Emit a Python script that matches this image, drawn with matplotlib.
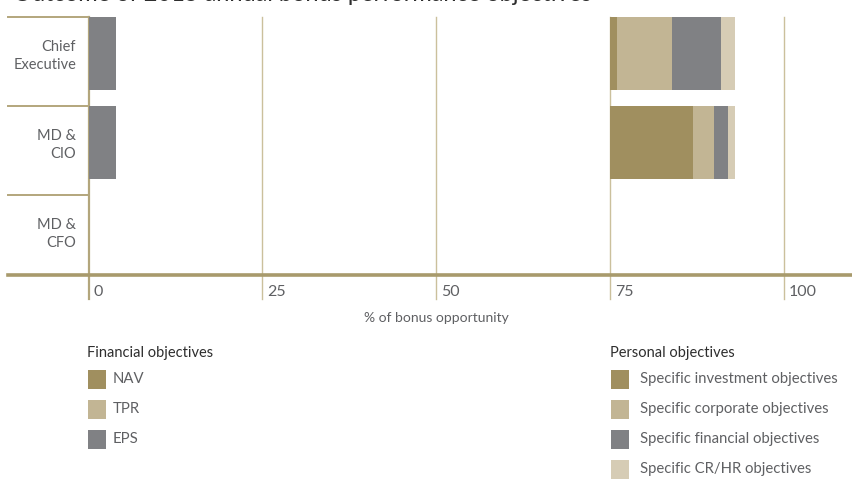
import matplotlib
matplotlib.use("Agg")
import matplotlib.pyplot as plt
from matplotlib.patches import Rectangle

plt.rcParams['font.family'] = ['Lato', 'DejaVu Sans']

# ---------------- data ----------------
title = "Outcome of 2015 annual bonus performance objectives"
executives = ["Chief\nExecutive", "MD &\nCIO", "MD &\nCFO"]
# Financial objectives (% of bonus opportunity)
fin_labels = ["NAV", "TPR", "EPS"]
nav = [0, 0, 0]
tpr = [0, 0, 0]
eps = [4, 4, 0]
# Personal objectives are shown from the 75% mark
personal_start = 75
pers_labels = ["Specific investment objectives", "Specific corporate objectives",
               "Specific financial objectives", "Specific CR/HR objectives"]
invest = [1, 12, 0]
corporate = [8, 3, 0]
financial = [7, 2, 0]
crhr = [2, 1, 0]
xticks = [0, 25, 50, 75, 100]
xlabel = "% of bonus opportunity"

# ---------------- style ----------------
C_DARK = "#a08f5f"
C_MID = "#c2b594"
C_GREY = "#808184"
C_LIGHT = "#d6ccb5"
GOLD = "#b3a67c"
TXT = "#5f6063"

W, H = 853, 479
fig = plt.figure(figsize=(W / 100, H / 100), dpi=100)

def fx(px):
    return px / W

def fy(py):
    return 1 - py / H

# axes: left px 8, right 853, top px 17, bottom px 275
ax = fig.add_axes([fx(8), fy(275), 1 - fx(8), fy(17) - fy(275)])
xmin, xmax = -11.6, 110.0
ymax = (275 - 17) / 89.0
ax.set_xlim(xmin, xmax)
ax.set_ylim(ymax, 0)
ax.axis("off")

bar_h = 0.82
rows = list(range(len(executives)))

# gridlines (extend below axis line)
ybot = (299 - 17) / 89.0
for t in xticks:
    lw = 1.6 if t == 0 else 1.0
    col = GOLD if t == 0 else "#cbc09c"
    ax.plot([t, t], [0, ybot], color=col, lw=lw, clip_on=False, zorder=1)
    ax.text(t + 0.75, (292 - 17) / 89.0, str(t), ha="left", va="center",
            fontsize=11.5, color=TXT, clip_on=False)

# row divider lines in the label column
for r in rows:
    ax.plot([xmin, 0], [r, r], color=GOLD, lw=1.4, zorder=1, clip_on=False)
    ax.text(-1.8, r + 0.44, executives[r], ha="right", va="center",
            fontsize=10.5, color=TXT, linespacing=1.35)

# bottom axis line
ax.plot([xmin, xmax], [ymax, ymax], color="#a89a6c", lw=2.6, clip_on=False, zorder=3)

# financial bars
left = [0] * 3
for vals, col in zip([nav, tpr, eps], [C_DARK, C_MID, C_GREY]):
    ax.barh(rows, vals, left=left, height=bar_h, align="edge", color=col,
            linewidth=0, zorder=2)
    left = [a + b for a, b in zip(left, vals)]

# personal bars
left = [personal_start] * 3
for vals, col in zip([invest, corporate, financial, crhr],
                     [C_DARK, C_MID, C_GREY, C_LIGHT]):
    ax.barh(rows, vals, left=left, height=bar_h, align="edge", color=col,
            linewidth=0, zorder=2)
    left = [a + b for a, b in zip(left, vals)]

# x label
ax.text(50, (318 - 17) / 89.0, xlabel, ha="center", va="center",
        fontsize=10, color=TXT, clip_on=False)

# title (cropped at top in the reference)
fig.text(fx(13), fy(0.6), title, ha="left", va="baseline", fontsize=17,
         color="#2e2e2e")

# legends
def legend(x_sw, x_txt, y_title, items, colors, title_txt):
    fig.text(fx(x_sw - 1), fy(y_title), title_txt, ha="left", va="center",
             fontsize=10.5, color="#2e2e2e")
    for i, (lab, col) in enumerate(zip(items, colors)):
        ytop = 370 + i * 30
        fig.add_artist(Rectangle((fx(x_sw), fy(ytop + 18.5)), 18.5 / W, 18.5 / H,
                                 transform=fig.transFigure, color=col, lw=0))
        fig.text(fx(x_txt), fy(ytop + 9), lab, ha="left", va="center",
                 fontsize=10.7, color=TXT)

legend(88, 113, 353, fin_labels, [C_DARK, C_MID, C_GREY], "Financial objectives")
legend(611, 640, 353, pers_labels, [C_DARK, C_MID, C_GREY, C_LIGHT], "Personal objectives")

fig.savefig("out.png", dpi=100)
